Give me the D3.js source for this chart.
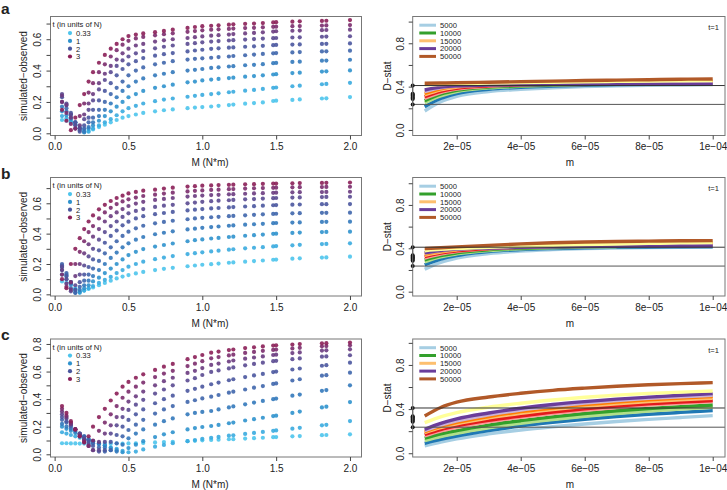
<!DOCTYPE html>
<html><head><meta charset="utf-8">
<script src="https://cdn.jsdelivr.net/npm/d3@7"></script>
<style>
body{margin:0;background:#fff}
svg{display:block}
text{font-family:"Liberation Sans",Arial,Helvetica,sans-serif;fill:#222}
</style>
</head><body><svg id="c" width="727" height="490"></svg>
<script>
// ---------- data ----------
const M_COLS = [0.05,0.08,0.11,0.14,0.17,0.2,0.23,0.26,0.3,0.34,0.38,0.42,0.46,0.5,0.55,0.6,0.68,0.74,0.8,0.9,0.95,1.0,1.06,1.11,1.18,1.21,1.29,1.35,1.41,1.48,1.5,1.61,1.66,1.81,1.84,2.0];
const T_VALUES = [0.33,0.63,0.93,1.22,1.52,1.81,2.11,2.41,2.70,3.00];
const T_LEGEND = ["0.33","1","2","3"];
const T_LEGEND_IDX = [0,2,5,9];

const SCATTER_A = [
[0.085,0.08,0.07,0.055,0.04,0.025,0.015,0.025,0.04,0.055,0.07,0.085,0.1,0.11,0.12,0.13,0.14,0.147,0.152,0.16,0.164,0.167,0.171,0.175,0.18,0.183,0.189,0.193,0.197,0.206,0.208,0.213,0.216,0.222,0.223,0.231],
[0.11,0.095,0.075,0.055,0.035,0.015,0.01,0.03,0.05,0.07,0.09,0.115,0.14,0.16,0.175,0.19,0.205,0.215,0.222,0.233,0.239,0.245,0.25,0.255,0.262,0.265,0.272,0.277,0.283,0.29,0.292,0.3,0.304,0.313,0.315,0.322],
[0.14,0.115,0.09,0.06,0.03,0.005,0.03,0.05,0.08,0.11,0.14,0.17,0.2,0.23,0.25,0.27,0.29,0.3,0.31,0.325,0.33,0.337,0.343,0.347,0.352,0.355,0.361,0.365,0.37,0.375,0.377,0.384,0.387,0.394,0.395,0.401],
[0.17,0.14,0.1,0.07,0.03,0.01,0.04,0.07,0.11,0.15,0.19,0.23,0.27,0.3,0.33,0.35,0.37,0.38,0.39,0.4,0.405,0.41,0.417,0.421,0.426,0.428,0.434,0.437,0.441,0.447,0.449,0.455,0.457,0.463,0.464,0.469],
[0.2,0.16,0.12,0.07,0.02,0.03,0.07,0.1,0.15,0.2,0.25,0.29,0.33,0.37,0.4,0.42,0.44,0.45,0.46,0.47,0.475,0.478,0.482,0.486,0.49,0.493,0.498,0.502,0.506,0.51,0.512,0.516,0.518,0.522,0.523,0.527],
[0.23,0.18,0.13,0.07,0.01,0.05,0.1,0.15,0.21,0.27,0.32,0.37,0.41,0.44,0.46,0.48,0.495,0.505,0.512,0.522,0.528,0.533,0.539,0.542,0.546,0.548,0.552,0.555,0.558,0.562,0.564,0.566,0.567,0.57,0.571,0.573],
[0.25,0.19,0.12,0.05,0.03,0.09,0.15,0.21,0.28,0.34,0.39,0.43,0.465,0.49,0.51,0.525,0.542,0.552,0.56,0.57,0.575,0.58,0.585,0.588,0.592,0.594,0.598,0.601,0.604,0.607,0.608,0.611,0.612,0.616,0.617,0.619],
[0.24,0.18,0.1,0.03,0.05,0.12,0.19,0.25,0.32,0.38,0.43,0.47,0.51,0.54,0.56,0.57,0.585,0.593,0.6,0.608,0.613,0.618,0.623,0.626,0.63,0.633,0.637,0.64,0.644,0.649,0.651,0.654,0.655,0.658,0.659,0.661],
[0.2,0.13,0.06,0.03,0.11,0.19,0.26,0.32,0.39,0.44,0.49,0.53,0.565,0.59,0.605,0.615,0.625,0.632,0.638,0.647,0.652,0.657,0.661,0.663,0.666,0.668,0.671,0.673,0.676,0.679,0.68,0.683,0.684,0.687,0.688,0.69],
[0.15,0.08,0.02,0.1,0.18,0.25,0.33,0.39,0.45,0.5,0.54,0.57,0.6,0.62,0.63,0.637,0.645,0.653,0.661,0.672,0.678,0.683,0.686,0.689,0.693,0.695,0.698,0.7,0.703,0.707,0.709,0.712,0.714,0.717,0.718,0.722]
];
const SCATTER_B = [
[0.085,0.075,0.06,0.04,0.02,0.025,0.035,0.045,0.06,0.075,0.09,0.105,0.117,0.127,0.138,0.148,0.16,0.168,0.175,0.185,0.19,0.195,0.199,0.203,0.208,0.21,0.215,0.219,0.223,0.228,0.229,0.235,0.237,0.242,0.243,0.248],
[0.13,0.1,0.07,0.035,0.01,0.025,0.04,0.055,0.075,0.095,0.115,0.14,0.16,0.182,0.2,0.215,0.232,0.242,0.252,0.265,0.271,0.277,0.283,0.288,0.294,0.297,0.303,0.307,0.311,0.316,0.318,0.323,0.326,0.331,0.332,0.336],
[0.16,0.12,0.08,0.025,0.015,0.04,0.06,0.085,0.11,0.14,0.17,0.2,0.23,0.259,0.28,0.298,0.315,0.325,0.335,0.35,0.357,0.362,0.368,0.372,0.378,0.38,0.386,0.39,0.394,0.399,0.4,0.405,0.407,0.41,0.411,0.413],
[0.18,0.13,0.08,0.01,0.03,0.06,0.09,0.12,0.16,0.2,0.24,0.275,0.31,0.336,0.36,0.378,0.396,0.406,0.415,0.428,0.433,0.438,0.443,0.447,0.452,0.454,0.459,0.462,0.465,0.469,0.47,0.473,0.474,0.477,0.478,0.479],
[0.2,0.14,0.07,0.01,0.05,0.09,0.13,0.17,0.22,0.27,0.31,0.35,0.385,0.413,0.435,0.452,0.468,0.477,0.485,0.495,0.5,0.504,0.508,0.511,0.515,0.517,0.521,0.524,0.527,0.53,0.531,0.534,0.535,0.537,0.537,0.538],
[0.19,0.12,0.04,0.03,0.08,0.13,0.18,0.23,0.29,0.34,0.385,0.42,0.455,0.479,0.5,0.515,0.528,0.536,0.543,0.553,0.558,0.562,0.566,0.569,0.573,0.575,0.579,0.581,0.584,0.587,0.588,0.591,0.592,0.594,0.594,0.595],
[0.18,0.1,0.02,0.06,0.13,0.19,0.25,0.3,0.36,0.41,0.45,0.48,0.51,0.534,0.55,0.562,0.576,0.584,0.59,0.6,0.605,0.61,0.614,0.617,0.62,0.622,0.626,0.628,0.631,0.634,0.635,0.638,0.639,0.641,0.642,0.643],
[0.16,0.07,0.03,0.12,0.2,0.27,0.33,0.38,0.43,0.48,0.515,0.54,0.562,0.582,0.598,0.61,0.622,0.629,0.635,0.644,0.648,0.651,0.654,0.656,0.659,0.66,0.663,0.665,0.667,0.669,0.67,0.672,0.673,0.674,0.675,0.676],
[0.13,0.05,0.08,0.2,0.28,0.35,0.41,0.45,0.5,0.54,0.57,0.595,0.612,0.626,0.638,0.648,0.657,0.664,0.67,0.678,0.682,0.685,0.688,0.69,0.693,0.694,0.697,0.699,0.7,0.702,0.703,0.705,0.706,0.707,0.708,0.709],
[0.1,0.04,0.2,0.3,0.37,0.43,0.48,0.52,0.56,0.59,0.615,0.635,0.65,0.665,0.675,0.683,0.69,0.697,0.703,0.71,0.713,0.716,0.718,0.72,0.722,0.723,0.725,0.726,0.728,0.73,0.73,0.732,0.733,0.734,0.735,0.737]
];
const SCATTER_C = [
[0.08,0.08,0.079,0.079,0.078,0.078,0.078,0.077,0.077,0.077,0.077,0.078,0.078,0.079,0.08,0.082,0.086,0.089,0.091,0.095,0.098,0.101,0.104,0.106,0.109,0.11,0.114,0.117,0.12,0.124,0.125,0.13,0.132,0.139,0.14,0.145],
[0.16,0.15,0.14,0.13,0.12,0.11,0.1,0.09,0.075,0.065,0.05,0.04,0.025,0.015,0.02,0.035,0.055,0.068,0.08,0.095,0.103,0.112,0.12,0.126,0.135,0.138,0.148,0.155,0.162,0.17,0.173,0.186,0.192,0.21,0.214,0.241],
[0.2,0.185,0.17,0.155,0.14,0.125,0.11,0.095,0.08,0.065,0.045,0.03,0.015,0.045,0.07,0.095,0.125,0.145,0.16,0.18,0.19,0.198,0.205,0.213,0.225,0.23,0.245,0.255,0.265,0.277,0.28,0.3,0.31,0.34,0.345,0.379],
[0.22,0.2,0.185,0.165,0.145,0.13,0.11,0.095,0.075,0.05,0.03,0.02,0.07,0.116,0.15,0.18,0.215,0.24,0.26,0.29,0.3,0.307,0.314,0.325,0.34,0.347,0.362,0.375,0.387,0.4,0.404,0.425,0.433,0.46,0.466,0.5],
[0.25,0.23,0.2,0.18,0.15,0.13,0.1,0.08,0.05,0.02,0.03,0.08,0.13,0.176,0.215,0.25,0.295,0.325,0.35,0.38,0.392,0.405,0.418,0.43,0.447,0.454,0.47,0.483,0.495,0.51,0.514,0.535,0.544,0.57,0.574,0.592],
[0.27,0.24,0.21,0.18,0.15,0.12,0.09,0.06,0.02,0.03,0.09,0.14,0.2,0.249,0.29,0.325,0.37,0.4,0.425,0.46,0.475,0.49,0.508,0.52,0.537,0.544,0.56,0.572,0.583,0.596,0.6,0.615,0.622,0.642,0.646,0.664],
[0.29,0.26,0.22,0.18,0.15,0.11,0.07,0.03,0.03,0.09,0.15,0.21,0.27,0.322,0.36,0.395,0.44,0.47,0.5,0.535,0.552,0.575,0.597,0.608,0.623,0.63,0.645,0.655,0.664,0.675,0.678,0.69,0.695,0.708,0.71,0.718],
[0.31,0.27,0.22,0.18,0.14,0.1,0.06,0.03,0.09,0.15,0.21,0.27,0.33,0.382,0.42,0.455,0.5,0.53,0.555,0.59,0.605,0.625,0.648,0.658,0.673,0.68,0.693,0.702,0.71,0.72,0.722,0.734,0.739,0.752,0.754,0.761],
[0.33,0.28,0.23,0.18,0.13,0.09,0.06,0.1,0.17,0.23,0.29,0.35,0.41,0.454,0.49,0.52,0.56,0.585,0.605,0.64,0.657,0.675,0.696,0.705,0.717,0.722,0.735,0.742,0.75,0.757,0.759,0.768,0.772,0.783,0.785,0.79],
[0.35,0.3,0.24,0.18,0.13,0.085,0.13,0.2,0.27,0.33,0.39,0.44,0.49,0.525,0.555,0.58,0.612,0.635,0.655,0.69,0.705,0.72,0.737,0.745,0.756,0.76,0.77,0.776,0.782,0.788,0.79,0.796,0.799,0.805,0.806,0.81]
];

const M_GRID = [1e-5,1.5e-5,2e-5,3e-5,4e-5,5e-5,6e-5,7e-5,8e-5,9e-5,1e-4];
const LINES_A = [
[0.175,0.26,0.31,0.355,0.375,0.39,0.4,0.407,0.412,0.415,0.418],
[0.215,0.29,0.335,0.375,0.394,0.405,0.413,0.418,0.421,0.423,0.425],
[0.252,0.315,0.355,0.388,0.403,0.412,0.418,0.421,0.423,0.424,0.425],
[0.271,0.33,0.365,0.395,0.408,0.417,0.422,0.425,0.427,0.429,0.43],
[0.292,0.345,0.377,0.403,0.415,0.423,0.429,0.433,0.436,0.438,0.44],
[0.308,0.357,0.385,0.408,0.419,0.427,0.432,0.436,0.439,0.441,0.442],
[0.323,0.37,0.395,0.415,0.425,0.432,0.438,0.442,0.445,0.448,0.45],
[0.338,0.38,0.402,0.418,0.427,0.433,0.438,0.441,0.443,0.445,0.447],
[0.354,0.388,0.405,0.417,0.422,0.425,0.427,0.428,0.429,0.43,0.43],
[0.369,0.395,0.407,0.414,0.417,0.419,0.42,0.421,0.421,0.422,0.422],
[0.416,0.42,0.425,0.432,0.437,0.441,0.445,0.448,0.451,0.453,0.455],
[0.431,0.433,0.436,0.441,0.446,0.451,0.456,0.46,0.464,0.468,0.471]
];
const LINES_B = [
[0.207,0.27,0.31,0.352,0.375,0.388,0.397,0.403,0.407,0.409,0.41],
[0.247,0.3,0.333,0.37,0.388,0.398,0.405,0.409,0.412,0.414,0.416],
[0.275,0.32,0.348,0.38,0.396,0.405,0.411,0.415,0.418,0.42,0.422],
[0.293,0.333,0.358,0.387,0.401,0.41,0.416,0.42,0.423,0.425,0.427],
[0.31,0.346,0.369,0.395,0.408,0.417,0.423,0.428,0.432,0.435,0.437],
[0.323,0.356,0.376,0.399,0.411,0.419,0.425,0.43,0.433,0.436,0.438],
[0.335,0.366,0.385,0.406,0.418,0.427,0.434,0.439,0.443,0.446,0.448],
[0.347,0.374,0.39,0.408,0.419,0.427,0.433,0.437,0.44,0.443,0.445],
[0.355,0.378,0.392,0.405,0.412,0.417,0.42,0.423,0.425,0.426,0.427],
[0.36,0.38,0.392,0.403,0.409,0.413,0.416,0.418,0.42,0.421,0.422],
[0.378,0.39,0.398,0.41,0.419,0.427,0.434,0.44,0.445,0.45,0.453],
[0.397,0.405,0.413,0.427,0.441,0.451,0.458,0.463,0.466,0.469,0.471]
];
const LINES_C = [
[0.066,0.1,0.13,0.175,0.211,0.24,0.265,0.288,0.307,0.324,0.341],
[0.09,0.125,0.155,0.205,0.247,0.28,0.308,0.333,0.353,0.37,0.386],
[0.114,0.15,0.18,0.23,0.271,0.305,0.335,0.36,0.382,0.4,0.416],
[0.136,0.175,0.205,0.255,0.295,0.33,0.36,0.385,0.405,0.422,0.437],
[0.157,0.2,0.232,0.285,0.325,0.36,0.39,0.415,0.436,0.453,0.468],
[0.172,0.215,0.248,0.298,0.337,0.372,0.402,0.427,0.447,0.463,0.477],
[0.187,0.232,0.267,0.32,0.362,0.396,0.425,0.449,0.469,0.485,0.498],
[0.196,0.243,0.279,0.333,0.377,0.41,0.44,0.464,0.484,0.5,0.513],
[0.205,0.255,0.293,0.348,0.392,0.425,0.454,0.478,0.497,0.512,0.525],
[0.217,0.27,0.311,0.365,0.408,0.442,0.468,0.49,0.508,0.525,0.54],
[0.277,0.33,0.368,0.418,0.453,0.482,0.507,0.527,0.542,0.554,0.564],
[0.338,0.415,0.463,0.51,0.543,0.57,0.59,0.607,0.62,0.631,0.64]
];
const N_LEGEND = ["5000","10000","15000","20000","50000"];
const N_LEGEND_IDX = [0,3,6,9,11];
const H_LINES = [0.41, 0.236];
const OBS_POINTS = [0.41, 0.236, 0.285, 0.295, 0.305, 0.315, 0.325, 0.335];
const X_TICKS_L = [0, 0.5, 1.0, 1.5, 2.0];
const X_TICKS_R = [2e-5, 4e-5, 6e-5, 8e-5, 1e-4];
const X_LABELS_R = ["2e\u221205","4e\u221205","6e\u221205","8e\u221205","1e\u221204"];
const Y_TICKS_R = [0,0.2,0.4,0.6,0.8,1.0];

// ---------- styles ----------
const T_COLORS = ["#4dc4ec","#3aabdf","#2f92cd","#3379bb","#3f66ac","#4a579e","#5a4a91","#6a3b80","#7b2c6d","#8b1f58"];
const PAIRED = ["#a6cee3","#1f78b4","#b2df8a","#33a02c","#fb9a99","#e31a1c","#fdbf6f","#ff7f00","#cab2d6","#6a3d9a","#ffff99","#b15928"];

const rows = [
 {label:"a", lab:14,   top:16.5, bot:135.5, lDom:[-0.014,0.745], lMax:0.7, rDom:[-0.051,1.047], sc:SCATTER_A, ln:LINES_A},
 {label:"b", lab:179,  top:177.5, bot:296, lDom:[-0.011,0.770], lMax:0.7, rDom:[-0.040,1.053], sc:SCATTER_B, ln:LINES_B},
 {label:"c", lab:340,  top:339,  bot:457, lDom:[-0.0196,0.836], lMax:0.8, rDom:[-0.034,1.035], sc:SCATTER_C, ln:LINES_C}
];
const LX = [50.5, 361.5], RX = [412.7, 725];
const svg = d3.select("#c");
const frameCol = "#777", tickCol = "#444";
const LEG_FS = 7.6;

rows.forEach(r => {
  svg.append("text").attr("x",1).attr("y",r.lab).attr("font-size",15.5).attr("font-weight","bold").attr("fill","#111").text(r.label);

  // ---- left scatter ----
  const x = d3.scaleLinear().domain([-0.028, 2.078]).range(LX);
  const y = d3.scaleLinear().domain(r.lDom).range([r.bot, r.top]);
  const g = svg.append("g");
  r.sc.forEach((vals, k) => {
    g.append("g").selectAll("circle").data(vals).join("circle")
      .attr("cx",(d,i)=>x(M_COLS[i])).attr("cy",d=>y(d)).attr("r",2.1)
      .attr("fill",T_COLORS[k]).attr("fill-opacity",0.9);
  });
  g.append("rect").attr("x",LX[0]).attr("y",r.top).attr("width",LX[1]-LX[0]).attr("height",r.bot-r.top)
    .attr("fill","none").attr("stroke",frameCol).attr("stroke-width",1);
  const xa = g.append("g").attr("transform",`translate(0,${r.bot})`)
    .call(d3.axisBottom(x).tickValues(X_TICKS_L).tickSize(4).tickPadding(3.4).tickFormat(d3.format(".1f")));
  const yt = d3.range(0, r.lMax+0.001, 0.1);
  const ya = g.append("g").attr("transform",`translate(${LX[0]},0)`)
    .call(d3.axisLeft(y).tickValues(yt).tickSize(4).tickFormat((d,i)=> i%2===0 ? d3.format(".1f")(d) : ""));
  [xa,ya].forEach(a=>{a.select(".domain").remove(); a.selectAll("line").attr("stroke",tickCol); a.selectAll("text").attr("font-size",10).attr("fill","#222").attr("font-family","Liberation Sans, Arial, sans-serif");});
  ya.selectAll("text").attr("transform","rotate(-90)").attr("x",0).attr("y",-10).attr("dy",0).attr("text-anchor","middle");
  g.append("text").attr("x",(LX[0]+LX[1])/2+4).attr("y",r.bot+30.5).attr("text-anchor","middle").attr("font-size",10).text("M (N*m)");
  g.append("text").attr("transform",`translate(26.5,${(r.top+r.bot)/2}) rotate(-90)`).attr("text-anchor","middle").attr("font-size",10).text("simulated\u2212observed");
  // legend
  g.append("text").attr("x",52.5).attr("y",r.top+10.5).attr("font-size",LEG_FS).text("t (in units of N)");
  T_LEGEND.forEach((lab,i)=>{
    const yy = r.top + 16.6 + i*7.8;
    g.append("circle").attr("cx",70).attr("cy",yy).attr("r",2.1).attr("fill",T_COLORS[T_LEGEND_IDX[i]]);
    g.append("text").attr("x",76).attr("y",yy+2.8).attr("font-size",LEG_FS).text(lab);
  });

  // ---- right lines ----
  const xr = d3.scaleLinear().domain([0.625e-5, 1.0384e-4]).range(RX);
  const yr = d3.scaleLinear().domain(r.rDom).range([r.bot, r.top]);
  const h = svg.append("g");
  const line = d3.line().x((d,i)=>xr(M_GRID[i])).y(d=>yr(d)).curve(d3.curveMonotoneX);
  r.ln.forEach((vals,k)=>{
    h.append("path").attr("d",line(vals)).attr("fill","none").attr("stroke",PAIRED[k]).attr("stroke-width",3.4);
  });
  H_LINES.forEach((v,i)=>{
    h.append("line").attr("x1",RX[0]).attr("x2",RX[1]).attr("y1",yr(v)).attr("y2",yr(v))
      .attr("stroke", i===0 ? "#333" : "#555").attr("stroke-width",1);
  });
  h.append("line").attr("x1",RX[0]).attr("x2",RX[0]).attr("y1",yr(H_LINES[0])).attr("y2",yr(H_LINES[1])).attr("stroke","#111").attr("stroke-width",1);
  h.selectAll(".obs").data(OBS_POINTS).join("circle").attr("cx",RX[0]).attr("cy",d=>yr(d)).attr("r",2).attr("fill","#111");
  h.append("rect").attr("x",RX[0]).attr("y",r.top).attr("width",RX[1]-RX[0]).attr("height",r.bot-r.top)
    .attr("fill","none").attr("stroke",frameCol).attr("stroke-width",1);
  const xra = h.append("g").attr("transform",`translate(0,${r.bot})`)
    .call(d3.axisBottom(xr).tickValues(X_TICKS_R).tickSize(4).tickPadding(3.4).tickFormat((d,i)=>X_LABELS_R[i]));
  const yra = h.append("g").attr("transform",`translate(${RX[0]},0)`)
    .call(d3.axisLeft(yr).tickValues(Y_TICKS_R).tickSize(4).tickFormat((d,i)=> i%2===0 ? d3.format(".1f")(d) : ""));
  [xra,yra].forEach(a=>{a.select(".domain").remove(); a.selectAll("line").attr("stroke",tickCol); a.selectAll("text").attr("font-size",10).attr("fill","#222").attr("font-family","Liberation Sans, Arial, sans-serif");});
  yra.selectAll("text").attr("transform","rotate(-90)").attr("x",0).attr("y",-9).attr("dy",0).attr("text-anchor","middle");
  h.append("text").attr("x",(RX[0]+RX[1])/2+1).attr("y",r.bot+30.5).attr("text-anchor","middle").attr("font-size",10).text("m");
  h.append("text").attr("transform",`translate(390.5,${(r.top+r.bot)/2}) rotate(-90)`).attr("text-anchor","middle").attr("font-size",10).text("D\u2212stat");
  N_LEGEND.forEach((lab,i)=>{
    const yy = r.top + 8.7 + i*7.8;
    h.append("line").attr("x1",419.3).attr("x2",436).attr("y1",yy).attr("y2",yy).attr("stroke",PAIRED[N_LEGEND_IDX[i]]).attr("stroke-width",3);
    h.append("text").attr("x",440).attr("y",yy+2.8).attr("font-size",LEG_FS).text(lab);
  });
  h.append("text").attr("x",719).attr("y",r.top+13.5).attr("text-anchor","end").attr("font-size",LEG_FS).text("t=1");
});
</script>
</body></html>
